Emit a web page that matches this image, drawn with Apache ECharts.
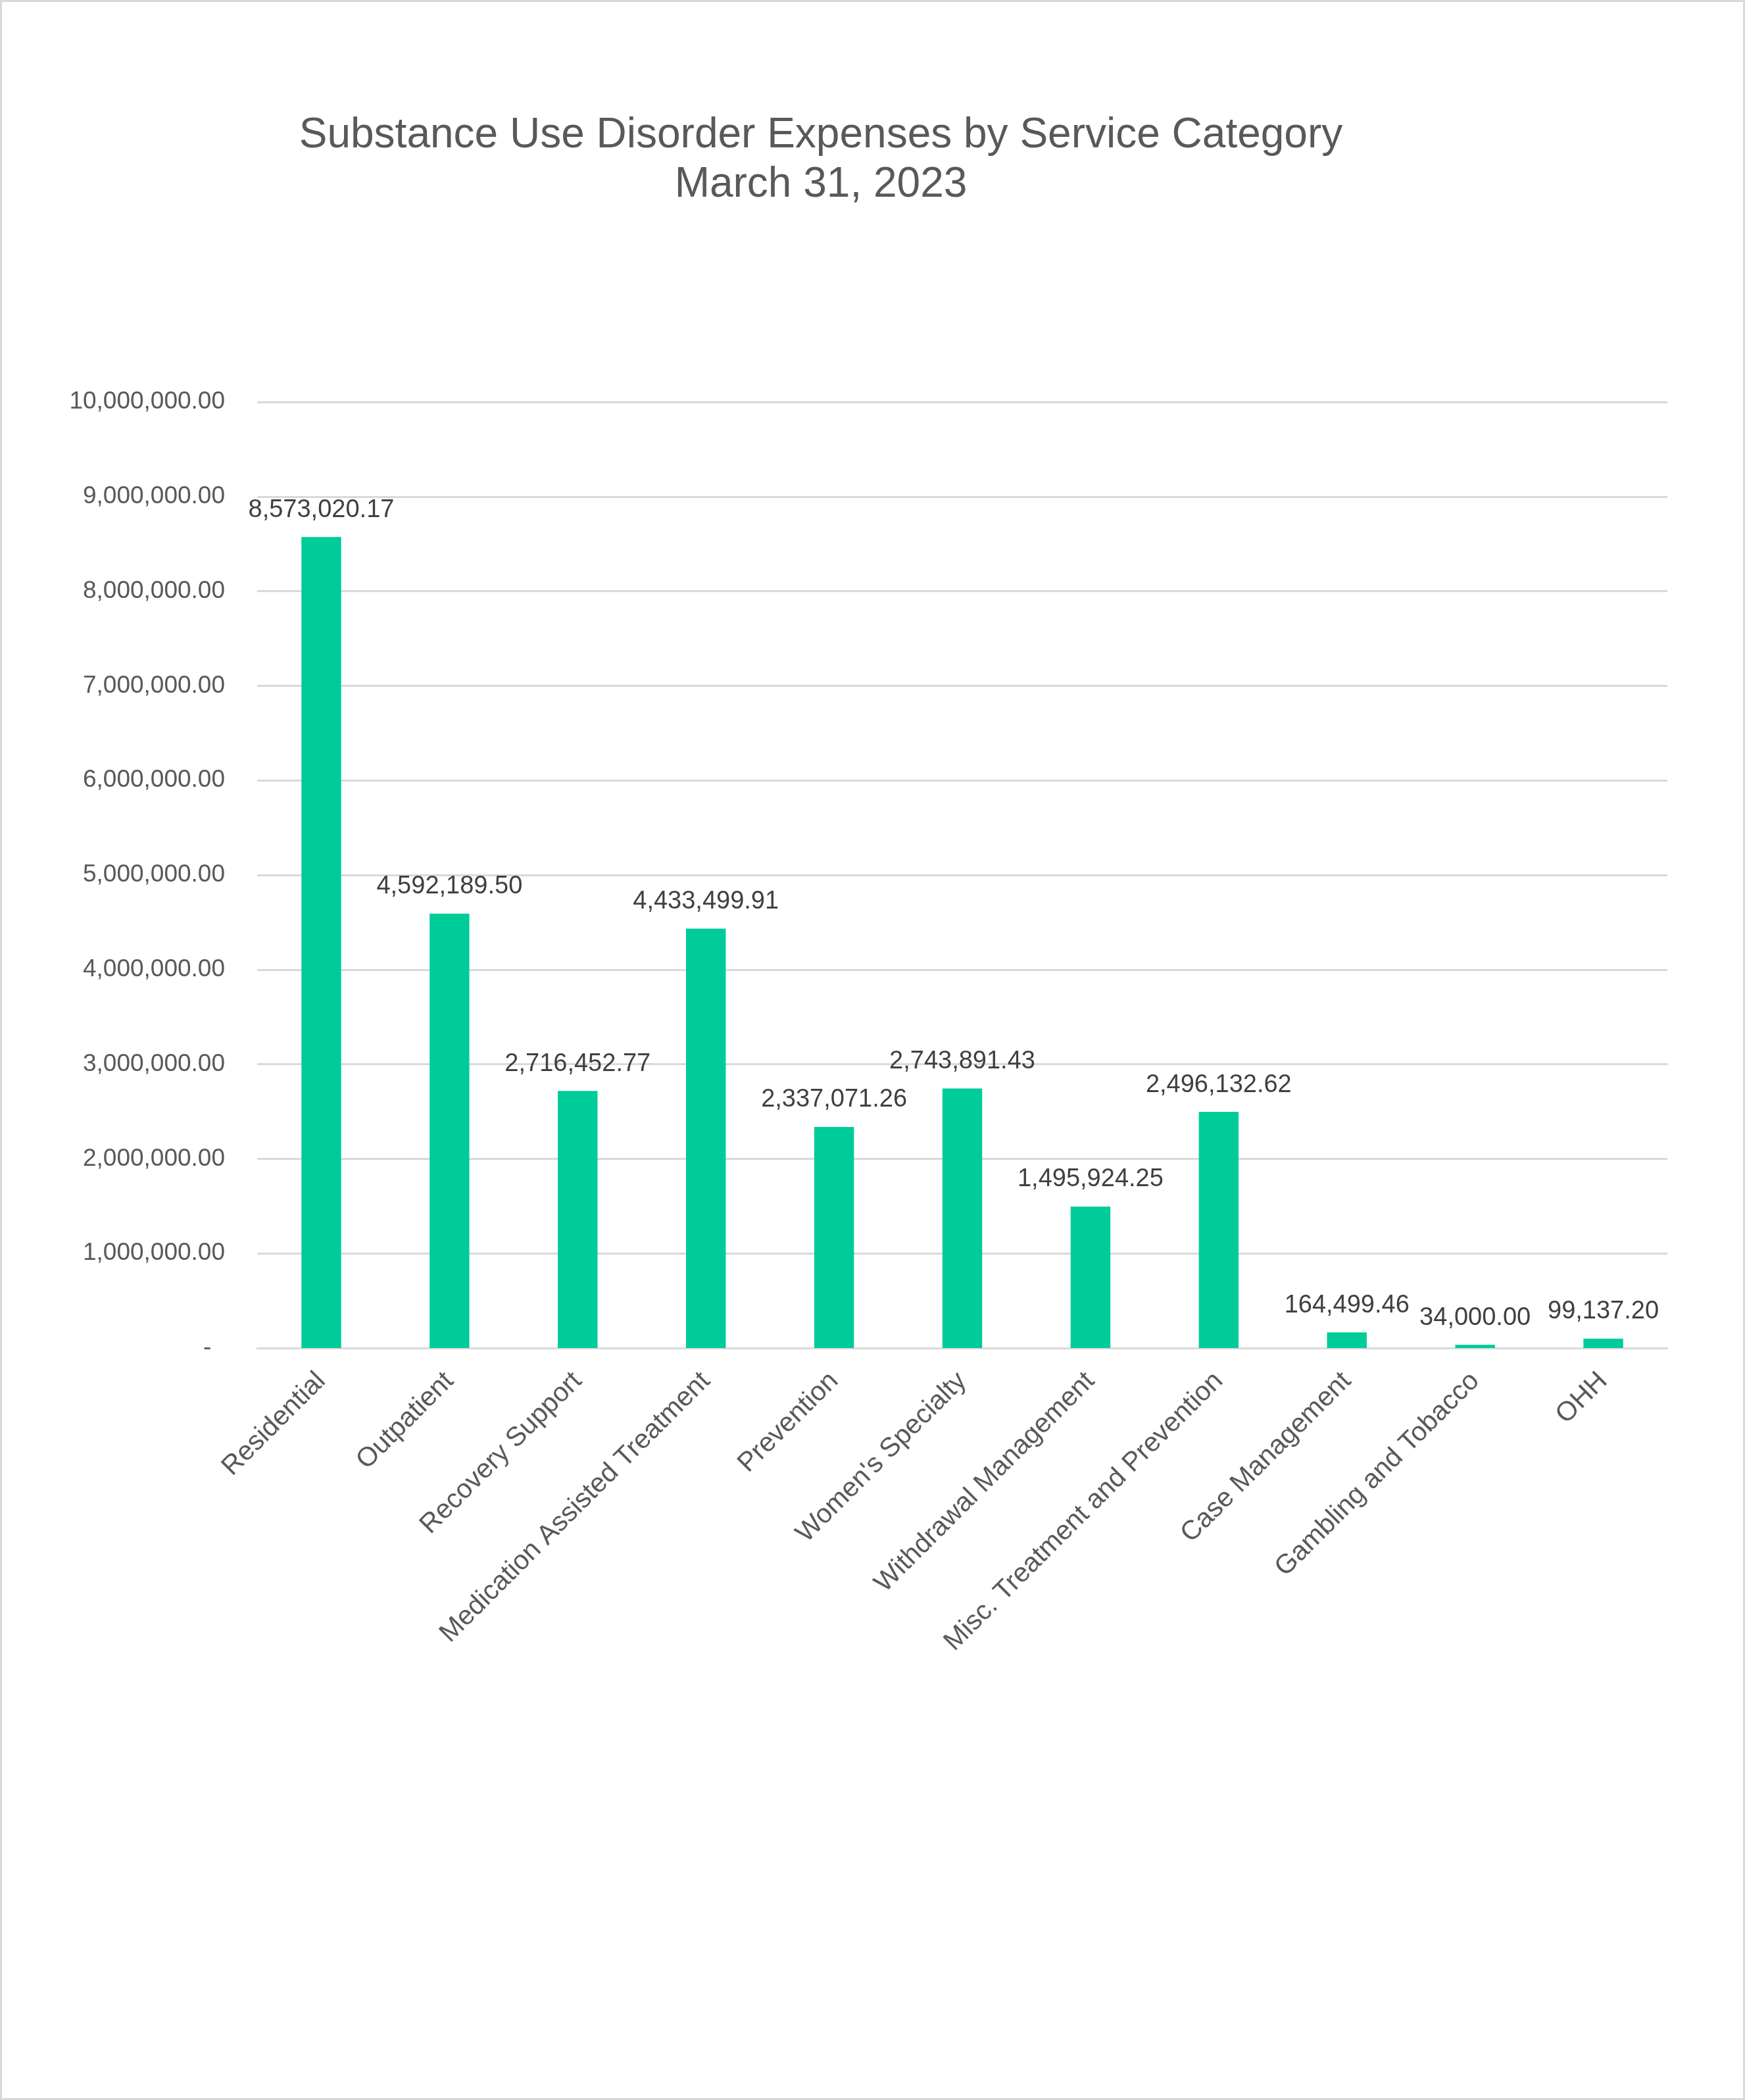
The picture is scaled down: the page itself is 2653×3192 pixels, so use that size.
<!DOCTYPE html>
<html>
<head>
<meta charset="utf-8">
<title>Substance Use Disorder Expenses by Service Category</title>
<script src="https://cdn.jsdelivr.net/npm/echarts@6/dist/echarts.min.js"></script>
<style>
  html, body { margin: 0; padding: 0; background: #fff; }
  #main { width: 2653px; height: 3192px; }
</style>
</head>
<body>
<div id="main"></div>
<script>
var categories = ['Residential', 'Outpatient', 'Recovery Support', 'Medication Assisted Treatment',
  'Prevention', "Women's Specialty", 'Withdrawal Management', 'Misc. Treatment and Prevention',
  'Case Management', 'Gambling and Tobacco', 'OHH'];
var expenses = [8573020.17, 4592189.50, 2716452.77, 4433499.91, 2337071.26, 2743891.43,
  1495924.25, 2496132.62, 164499.46, 34000.00, 99137.20];
var yTicks = [0, 1000000, 2000000, 3000000, 4000000, 5000000, 6000000, 7000000, 8000000, 9000000, 10000000];

function money(v) {
  return Number(v).toLocaleString('en-US', {minimumFractionDigits: 2, maximumFractionDigits: 2});
}

var myChart = echarts.init(document.getElementById('main'));

var option = {
  backgroundColor: '#ffffff',
  animation: false,
  title: {
    text: 'Substance Use Disorder Expenses by Service Category\nMarch 31, 2023',
    left: 1243,
    top: 164,
    textAlign: 'center',
    textStyle: {
      fontFamily: 'Liberation Sans',
      fontSize: 64,
      fontWeight: 'normal',
      color: '#595959',
      lineHeight: 75,
      align: 'center'
    }
  },
  graphic: [{
    type: 'rect',
    shape: {x: 1.5, y: 1.5, width: 2650, height: 3189},
    style: {fill: 'none', stroke: '#d9d9d9', lineWidth: 3},
    silent: true
  }],
  grid: {
    left: 391,
    right: 118,
    top: 611,
    bottom: 1143,
    containLabel: false
  },
  xAxis: {
    type: 'category',
    data: categories,
    axisLine: {lineStyle: {color: '#d9d9d9', width: 3}},
    axisTick: {show: false},
    axisLabel: {
      rotate: 45,
      interval: 0,
      margin: 44,
      fontFamily: 'Liberation Sans',
      fontSize: 41,
      color: '#595959'
    }
  },
  yAxis: {
    type: 'value',
    min: yTicks[0],
    max: yTicks[yTicks.length - 1],
    interval: yTicks[1] - yTicks[0],
    axisLine: {show: false},
    axisTick: {show: false},
    splitLine: {lineStyle: {color: '#d9d9d9', width: 3}},
    axisLabel: {
      margin: 49,
      fontFamily: 'Liberation Sans',
      fontSize: 37,
      color: '#595959',
      formatter: function (v) { return v === 0 ? '-  ' : money(v); }
    }
  },
  series: [{
    name: 'Expenses',
    type: 'bar',
    data: expenses,
    barWidth: '31%',
    itemStyle: {color: '#00cc99'},
    label: {
      show: true,
      position: 'top',
      distance: 22,
      fontFamily: 'Liberation Sans',
      fontSize: 38,
      color: '#404040',
      formatter: function (p) { return money(p.value); }
    }
  }]
};

myChart.setOption(option);
</script>
</body>
</html>
